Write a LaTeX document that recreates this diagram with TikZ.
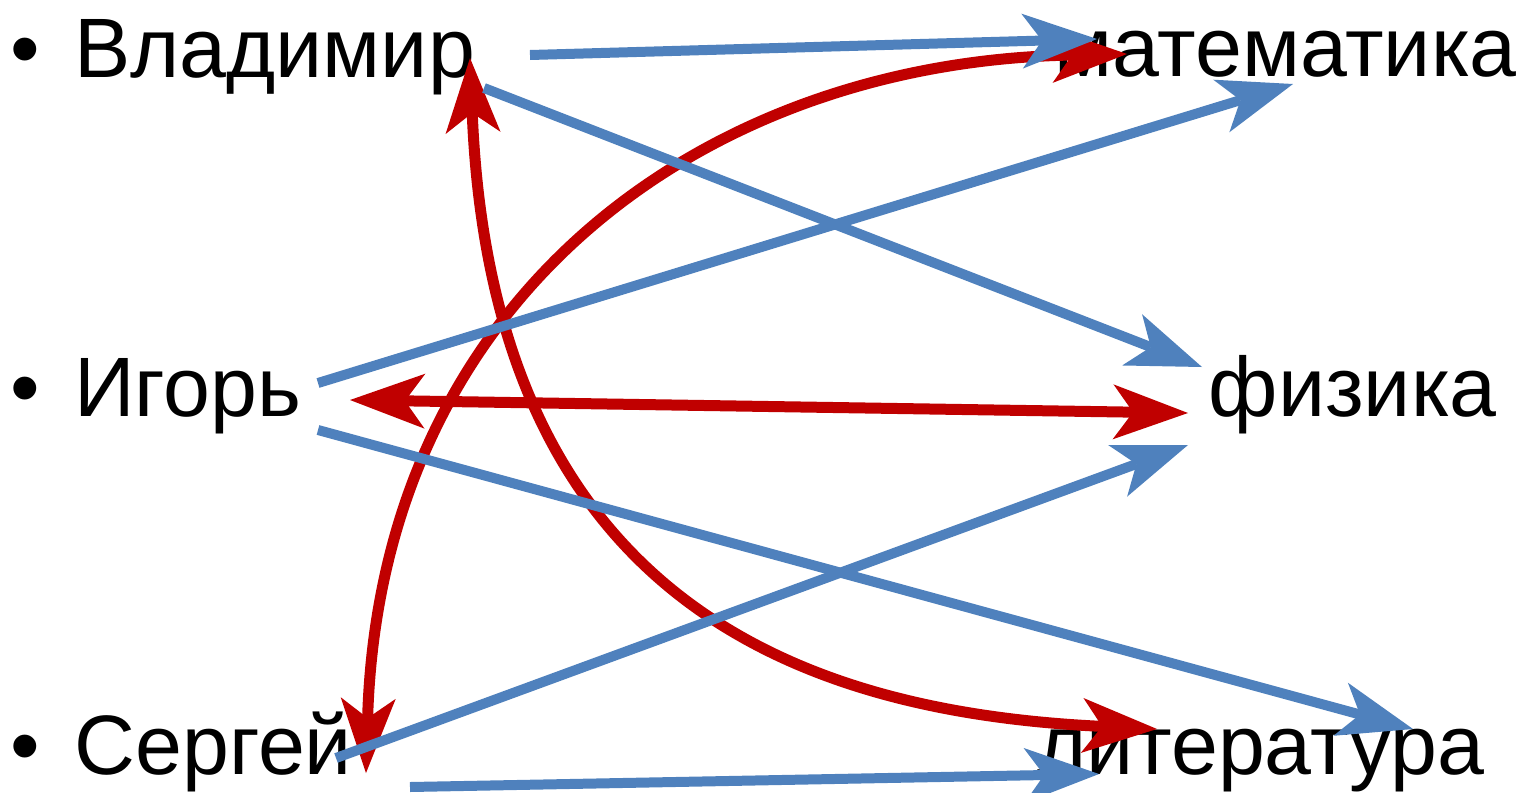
\documentclass[tikz,border=0pt]{standalone}
\usepackage{fontspec}
\setmainfont{Liberation Sans}
\usetikzlibrary{arrows.meta}

\definecolor{linkblue}{HTML}{4F81BD}
\definecolor{linkred}{HTML}{C00000}

\tikzset{
  word/.style = {inner sep=0pt, font=\fontsize{48}{58}\selectfont},
  bluelink/.style = {draw=linkblue, line width=0.2cm, -{Stealth[length=1.5cm, width=1.1cm, inset=0.4cm, line width=0pt]}},
  redlink/.style = {draw=linkred, line width=0.22cm,
    {Stealth[length=1.5cm, width=1.1cm, inset=0.4cm, line width=0pt]}-{Stealth[length=1.5cm, width=1.1cm, inset=0.4cm, line width=0pt]}}
}

\begin{document}
\begin{tikzpicture}[x=0.02cm, y=-0.02cm]

        \useasboundingbox (0,0) rectangle (1525,792);

        % names
        \node (vlad_dot) [word, anchor=base west] at (10,77) {•};
        \node (vlad) [word, anchor=base west] at (74,77) {Владимир};
        \node (igor_dot) [word, anchor=base west] at (10,416) {•};
        \node (igor) [word, anchor=base west] at (74,416) {Игорь};
        \node (serg_dot) [word, anchor=base west] at (10,774) {•};
        \node (serg) [word, anchor=base west] at (74,774) {Сергей};

        % subjects
        \node (math) [word, anchor=base east] at (1517,76) {математика};
        \node (phys) [word, anchor=base east] at (1497,416) {физика};
        \node (lit) [word, anchor=base east] at (1485,774) {литература};

        % ends of the links
        \coordinate (vlad_a) at (530,55);
        \coordinate (vlad_b) at (484,88);
        \coordinate (vlad_r) at (470,58);
        \coordinate (igor_a) at (318,383);
        \coordinate (igor_b) at (318,430);
        \coordinate (igor_r) at (350,400);
        \coordinate (serg_a) at (336,758);
        \coordinate (serg_b) at (410,787);
        \coordinate (serg_r) at (366,773);
        \coordinate (math_a) at (1097,39);
        \coordinate (math_b) at (1293,84);
        \coordinate (math_r) at (1127,54);
        \coordinate (phys_a) at (1202,367);
        \coordinate (phys_b) at (1188,445);
        \coordinate (phys_r) at (1188,413);
        \coordinate (lit_a) at (1099,774);
        \coordinate (lit_b) at (1413,729);
        \coordinate (lit_r) at (1157,729);

        % red links
        \path (igor_r) edge[redlink] (phys_r);
        \draw[redlink] (serg_r) .. controls (380,300) and (700,62) .. (math_r);
        \draw[redlink] (vlad_r) .. controls (492,600) and (800,712) .. (lit_r);

        % blue links
        \path (vlad_a) edge[bluelink] (math_a);
        \path (vlad_b) edge[bluelink] (phys_a);
        \path (igor_a) edge[bluelink] (math_b);
        \path (igor_b) edge[bluelink] (lit_b);
        \path (serg_a) edge[bluelink] (phys_b);
        \path (serg_b) edge[bluelink] (lit_a);
    \end{tikzpicture}
\end{document}
